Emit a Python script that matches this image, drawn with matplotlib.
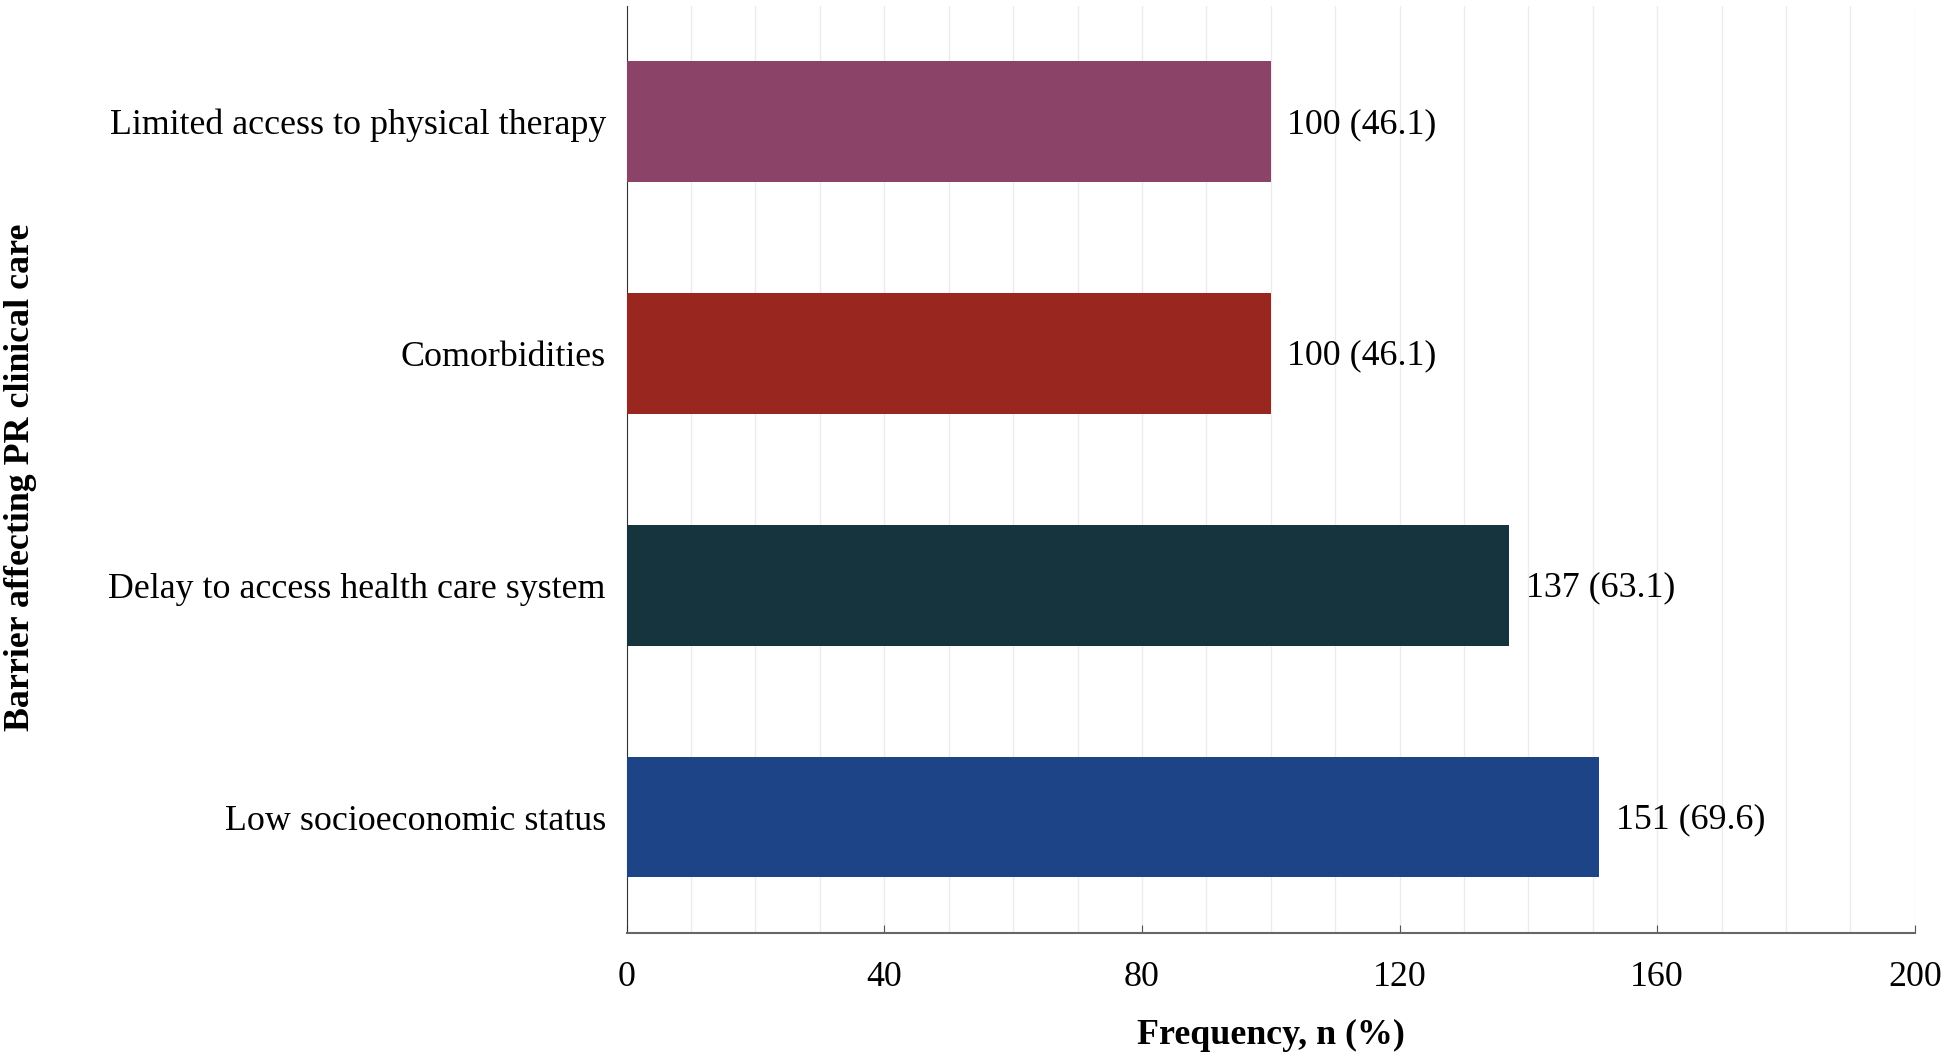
import matplotlib.pyplot as plt
import numpy as np

plt.rcParams['font.family'] = ['Liberation Serif', 'DejaVu Serif']

# dane
barriers = ['Low socioeconomic status', 'Delay to access health care system',
            'Comorbidities', 'Limited access to physical therapy']
counts = np.array([151, 137, 100, 100])
percents = np.array([69.6, 63.1, 46.1, 46.1])
colors = ['#1E4488', '#15343D', '#9A271F', '#8B4367']

fig = plt.figure(figsize=(19.46, 10.56), dpi=100)
ax = fig.add_axes([0.322, 0.1165, 0.662, 0.878])

y = np.arange(len(barriers))
ax.barh(y, counts, height=0.52, color=colors, zorder=3)

for yi, c, p in zip(y, counts, percents):
    ax.annotate(f'{c} ({p})', xy=(c, yi), xytext=(12, -2), textcoords='offset points',
                va='center', ha='left', fontsize=25.8)

ax.set_xlim(0, 200)
ax.set_ylim(-0.5, 3.5)
ax.set_yticks(y)
ax.set_yticklabels(barriers, fontsize=25.8)
ax.set_xticks(np.arange(0, 201, 40))
ax.set_xticks(np.arange(0, 201, 10), minor=True)
ax.tick_params(axis='x', which='major', direction='in', length=6, labelsize=25.8, pad=20, color='#555555')
ax.tick_params(axis='x', which='minor', length=0)
ax.tick_params(axis='y', length=0, pad=15)
ax.grid(axis='x', which='both', color='#ececec', linewidth=1, zorder=0)

for s in ['top', 'right']:
    ax.spines[s].set_visible(False)
ax.spines['left'].set_color('#333333')
ax.spines['bottom'].set_color('#666666')
ax.spines['bottom'].set_linewidth(1.5)

ax.set_xlabel('Frequency, n (%)', fontsize=25.8, fontweight='bold', labelpad=18)
fig.text(0.0105, 0.548, 'Barrier affecting PR clinical care', rotation=90,
         ha='center', va='center', fontsize=25.8, fontweight='bold')

plt.savefig('out.png', dpi=100)
